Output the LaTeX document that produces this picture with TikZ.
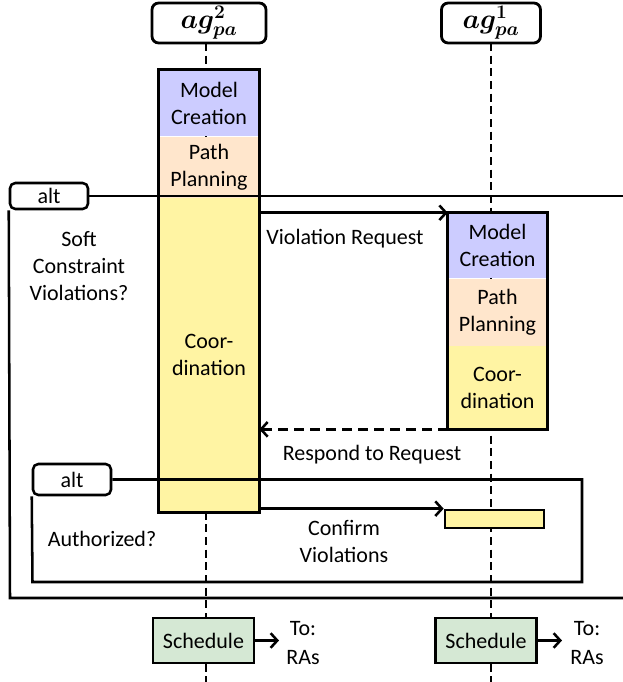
\documentclass[tikz,border=0pt]{standalone}
\usepackage{fontspec}
\setmainfont{Carlito}
\usepackage{amsmath}
\usepackage{bm}
\usetikzlibrary{arrows.meta}
\definecolor{mcblue}{HTML}{CCCCFF}
\definecolor{pppeach}{HTML}{FFE6CC}
\definecolor{coyellow}{HTML}{FFF4A3}
\definecolor{schgreen}{HTML}{D5E8D4}
\begin{document}
\begin{tikzpicture}[x=0.75pt,y=-0.75pt,
  font=\fontsize{16.5pt}{20.25pt}\selectfont,
  actor/.style={draw, line width=2.1pt, rounded corners=5pt, fill=white,
    minimum height=40*0.75pt, inner sep=0pt, font=\fontsize{21pt}{24pt}\selectfont},
  life/.style={line width=2pt, dash pattern=on 6pt off 3.5pt},
  sect/.style={fill=#1, inner sep=0pt, align=center, draw=none},
  barborder/.style={draw, line width=2pt},
  frame/.style={line width=1.9pt},
  altbox/.style={draw, line width=1.9pt, rounded corners=4pt, fill=white,
    minimum width=78*0.75pt, inner sep=0pt},
  msg/.style={-{Straight Barb[length=5pt,width=11pt,line width=1.9pt]}, line width=1.9pt},
  reply/.style={msg, dash pattern=on 7pt off 5pt},
  sched/.style={draw, line width=2pt, fill=schgreen, minimum width=101*0.75pt,
    minimum height=45*0.75pt, inner sep=0pt},
  lbl/.style={align=center, inner sep=0pt}
]
\useasboundingbox (0,0) rectangle (623,682);

% actors
\node[actor, minimum width=114*0.75pt] (ag2) at (209,23) {$\bm{ag^{2}_{pa}}$};
\node[actor, minimum width=99*0.75pt] (ag1) at (491,23) {$\bm{ag^{1}_{pa}}$};

% lifeline coordinates
\coordinate (l2a) at (206,43);
\coordinate (l2b) at (206,682);
\coordinate (l1a) at (491,43);
\coordinate (l1b) at (491,682);
\draw[life] (l2a) -- (l2b);
\draw[life] (l1a) -- (l1b);

% left activation bar
\node[sect=mcblue, minimum width=100*0.75pt, minimum height=66*0.75pt] (mcL) at (209,103) {Model\\Creation};
\node[sect=pppeach, minimum width=100*0.75pt, minimum height=61*0.75pt, anchor=north] (ppL) at (mcL.south) {Path\\Planning};
\node[sect=coyellow, minimum width=100*0.75pt, minimum height=314*0.75pt, anchor=north] (coL) at (ppL.south) {Coor-\\dination};
\draw[barborder] (mcL.north west) rectangle (coL.south east);

% right activation bar
\node[sect=mcblue, minimum width=99*0.75pt, minimum height=65*0.75pt] (mcR) at (497.5,245.5) {Model\\Creation};
\node[sect=pppeach, minimum width=99*0.75pt, minimum height=67*0.75pt, anchor=north] (ppR) at (mcR.south) {Path\\Planning};
\node[sect=coyellow, minimum width=99*0.75pt, minimum height=83*0.75pt, anchor=north] (coR) at (ppR.south) {Coor-\\dination};
\draw[barborder] (mcR.north west) rectangle (coR.south east);

% small bar
\node[sect=coyellow, draw, line width=2pt, minimum width=99*0.75pt, minimum height=18*0.75pt] (sb) at (494.5,519) {};

% outer alt frame
\node[altbox, minimum height=26*0.75pt] (altO) at (49,196) {alt};
\coordinate (oTR) at (623,196);
\coordinate (oBL) at (10,598);
\coordinate (oBR) at (623,598);
\draw[frame] (altO.east) -- (oTR);
\draw[frame] (altO.south west) -- (oBL) -- (oBR);

% inner alt frame
\coordinate (iTR) at (582,479.5);
\coordinate (iBR) at (582,582);
\coordinate (iBL) at (32.5,582);

% messages
\draw[msg] (coL.east |- mcR.north) -- (mcR.north west);
\draw[reply] (coR.south west) -- (coL.east |- coR.south);
\draw[msg] (coL.east |- sb.north) -- (sb.north west);

\node[altbox, minimum height=31*0.75pt] (altI) at (72,479.5) {alt};
\draw[frame] (altI.east) -- (iTR) -- (iBR) -- (iBL) -- (altI.south west);

% labels
\node[lbl] (vr) at (345,239) {Violation Request};
\node[lbl] (rr) at (372,455) {Respond to Request};
\node[lbl] (cv) at (344,541) {Confirm\\Violations};
\node[lbl] (sc) at (79,266) {Soft\\Constraint\\Violations?};
\node[lbl] (au) at (102,539) {Authorized?};

% schedules
\node[sched] (s2) at (203.5,640.5) {Schedule};
\node[sched] (s1) at (486,640.5) {Schedule};
\coordinate (t2) at (279,640.5);
\coordinate (t1) at (562,640.5);
\draw[msg] (s2.east) -- (t2);
\draw[msg] (s1.east) -- (t1);
\node[lbl, font=\fontsize{16.5pt}{21.5pt}\selectfont] (r2) at (303,643) {To:\\RAs};
\node[lbl, font=\fontsize{16.5pt}{21.5pt}\selectfont] (r1) at (587,643) {To:\\RAs};
\end{tikzpicture}
\end{document}
